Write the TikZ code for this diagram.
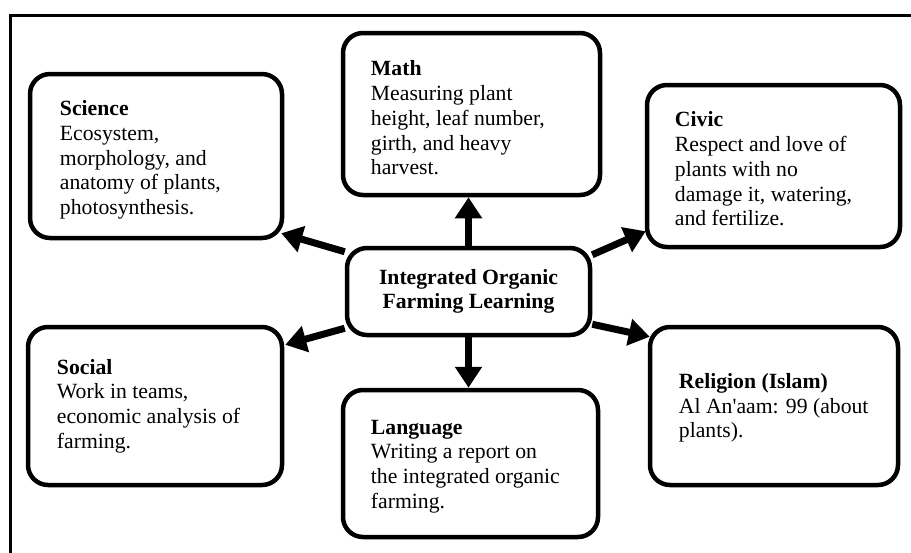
\documentclass[tikz,border=0pt]{standalone}
\usepackage{fontspec}
\setmainfont{Liberation Serif}
\usetikzlibrary{arrows.meta,calc}
\tikzset{
  box/.style={draw, line width=4.5pt, rounded corners=20pt, fill=white, inner sep=0pt},
  txt/.style={align=left, inner sep=0pt, font=\fontsize{21.7}{24.7}\selectfont},
  ctxt/.style={align=center, inner sep=0pt, font=\fontsize{21.7}{24.7}\selectfont\bfseries},
  arr/.style={line width=7pt, -{Triangle[length=21pt,width=26pt]}},
  frame/.style={line width=3pt}
}
\begin{document}
\begin{tikzpicture}[x=1pt,y=-1pt]
\useasboundingbox (0,0) rectangle (911,552);
\draw[frame] (10.5,560) -- (10.5,15) -- (920,15);
% boxes
\node[box, minimum width=252pt, minimum height=164pt] (sci) at (156,156) {};
\node[box, minimum width=257pt, minimum height=162pt] (mat) at (471.5,114) {};
\node[box, minimum width=253pt, minimum height=162pt] (civ) at (773.5,166) {};
\node[box, minimum width=243pt, minimum height=87pt] (cen) at (468.5,291.5) {};
\node[box, minimum width=254pt, minimum height=158pt] (soc) at (155,406) {};
\node[box, minimum width=255pt, minimum height=147pt] (lan) at (470.5,463.5) {};
\node[box, minimum width=248pt, minimum height=158pt] (rel) at (774,406) {};
% texts
\node[txt, anchor=west] (sci-t) at ($(sci.west)+(32,4)$) {\textbf{Science}\\Ecosystem,\\morphology, and\\anatomy of plants,\\photosynthesis.};
\node[txt, anchor=west] (mat-t) at ($(mat.west)+(30,4)$) {\textbf{Math}\\Measuring plant\\height, leaf number,\\girth, and heavy\\harvest.};
\node[txt, anchor=west] (civ-t) at ($(civ.west)+(30,3)$) {\textbf{Civic}\\Respect and love of\\plants with no\\damage it, watering,\\and fertilize.};
\node[ctxt] (cen-t) at (cen.center) {Integrated Organic\\Farming Learning};
\node[txt, anchor=west] (soc-t) at ($(soc.west)+(31,0)$) {\textbf{Social}\\Work in teams,\\economic analysis of\\farming.};
\node[txt, anchor=west] (lan-t) at ($(lan.west)+(30,3)$) {\textbf{Language}\\Writing a report on\\the integrated organic\\farming.};
\node[txt, anchor=west] (rel-t) at ($(rel.west)+(31,2)$) {\textbf{Religion (Islam)}\\Al An\textquotesingle aam: 99 (about\\plants).};
% arrows
\draw[arr] ($(cen.north west)+(0,6)$) -- ($(sci.south east)+(-3,-7)$);
\draw[arr] (cen.north) -- (cen.north |- mat.south);
\draw[arr] ($(cen.north east)+(0,9)$) -- ($(civ.south west)+(1,-18)$);
\draw[arr] ($(cen.south west)+(0,-9)$) -- ($(soc.north east)+(1,20)$);
\draw[arr] ($(cen.south east)+(0,-13)$) -- ($(rel.north west)+(2,12)$);
\draw[arr] (cen.south) -- (cen.south |- lan.north);
\end{tikzpicture}
\end{document}
